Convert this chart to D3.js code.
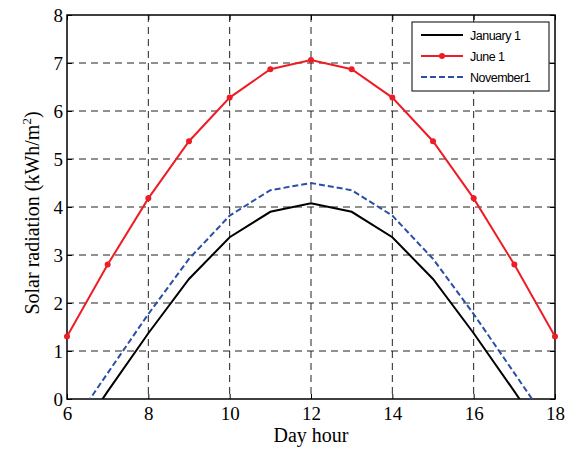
<!DOCTYPE html>
<html>
<head>
<meta charset="utf-8">
<script src="https://cdn.jsdelivr.net/npm/d3@7"></script>
<style>
  body { margin: 0; background: #fff; }
  .tick text { font-family: "Liberation Serif", "Times New Roman", serif; font-size: 19px; fill: #000; }
</style>
</head>
<body>
<script>
// Data
var hours = [6, 7, 8, 9, 10, 11, 12, 13, 14, 15, 16, 17, 18];
var jan1 = [-1.1, 0.16, 1.37, 2.5, 3.37, 3.9, 4.08, 3.9, 3.37, 2.5, 1.37, 0.16, -1.1];
var jun1 = [1.3, 2.8, 4.18, 5.37, 6.28, 6.87, 7.06, 6.87, 6.28, 5.37, 4.18, 2.8, 1.3];
var nov1 = [-0.7, 0.54, 1.77, 2.92, 3.82, 4.35, 4.5, 4.35, 3.82, 2.92, 1.77, 0.54, -0.7];
var xTicks = [6, 8, 10, 12, 14, 16, 18];
var yTicks = [0, 1, 2, 3, 4, 5, 6, 7, 8];

var series = [
  { name: 'January 1', values: jan1, color: '#000000', dash: null, dots: false },
  { name: 'June 1', values: jun1, color: '#ee1c25', dash: null, dots: true },
  { name: 'November1', values: nov1, color: '#2b4ea6', dash: '6,3', dots: false }
];

const margin = { top: 15, right: 13, bottom: 51, left: 67 };
const width = 568 - margin.left - margin.right;
const height = 450 - margin.top - margin.bottom;

const xScale = d3.scaleLinear().domain([6, 18]).range([0, width]);
const yScale = d3.scaleLinear().domain([0, 8]).range([height, 0]);

const svg = d3.select("body").append("svg")
  .attr("width", 568)
  .attr("height", 450)
  .append("g")
  .attr("transform", "translate(" + margin.left + "," + margin.top + ")");

svg.append("defs").append("clipPath")
  .attr("id", "clip")
  .append("rect")
  .attr("width", width)
  .attr("height", height);

// grid
svg.append("g").selectAll("line")
  .data(xTicks.slice(1, -1))
  .enter().append("line")
  .attr("x1", d => xScale(d)).attr("x2", d => xScale(d))
  .attr("y1", 0).attr("y2", height)
  .attr("stroke", "#222").attr("stroke-width", 1)
  .attr("stroke-dasharray", "7,5");

svg.append("g").selectAll("line")
  .data(yTicks.slice(1, -1))
  .enter().append("line")
  .attr("x1", 0).attr("x2", width)
  .attr("y1", d => yScale(d)).attr("y2", d => yScale(d))
  .attr("stroke", "#222").attr("stroke-width", 1)
  .attr("stroke-dasharray", "7,5");

// axes, ticks pointing inwards
const xAxis = d3.axisBottom(xScale).tickValues(xTicks).tickSizeInner(-5).tickSizeOuter(0).tickPadding(8);
const yAxis = d3.axisLeft(yScale).tickValues(yTicks).tickSizeInner(-5).tickSizeOuter(0).tickPadding(4);

svg.append("g")
  .attr("class", "x axis")
  .attr("transform", "translate(0," + height + ")")
  .call(xAxis)
  .call(g => g.select(".domain").remove());

svg.append("g")
  .attr("class", "y axis")
  .call(yAxis)
  .call(g => g.select(".domain").remove());

// top and right ticks
svg.append("g").call(d3.axisTop(xScale).tickValues(xTicks).tickSizeInner(-5).tickSizeOuter(0).tickFormat(""))
  .call(g => g.select(".domain").remove());
svg.append("g").attr("transform", "translate(" + width + ",0)")
  .call(d3.axisRight(yScale).tickValues(yTicks).tickSizeInner(-5).tickSizeOuter(0).tickFormat(""))
  .call(g => g.select(".domain").remove());

svg.selectAll(".tick line").attr("stroke", "#000");

svg.append("rect")
  .attr("width", width).attr("height", height)
  .attr("fill", "none").attr("stroke", "#000").attr("stroke-width", 1.5);

const line = d3.line()
  .x(function (d, i) { return xScale(hours[i]); })
  .y(function (d) { return yScale(d); });

svg.selectAll('.line')
  .data(series)
  .enter()
  .append("path")
  .attr("class", "line")
  .attr("fill", "none")
  .attr("stroke", d => d.color)
  .attr("stroke-width", 2)
  .attr("stroke-dasharray", d => d.dash)
  .attr("d", d => line(d.values))
  .attr("clip-path", "url(#clip)");

svg.selectAll('.dot')
  .data(jun1)
  .enter()
  .append("circle")
  .attr("class", "dot")
  .attr("r", 3)
  .attr("fill", series[1].color)
  .attr("cx", (d, i) => xScale(hours[i]))
  .attr("cy", d => yScale(d));

// axis labels
svg.append("text")
  .attr("x", width / 2)
  .attr("y", height + 43)
  .attr("text-anchor", "middle")
  .style("font-family", "'Liberation Serif', serif")
  .style("font-size", "20px")
  .text("Day hour");

const ylab = svg.append("text")
  .attr("transform", "rotate(-90)")
  .attr("x", -198)
  .attr("y", -28)
  .attr("text-anchor", "middle")
  .style("font-family", "'Liberation Serif', serif")
  .style("font-size", "20px");
ylab.append("tspan").text("Solar radiation (kWh/m");
ylab.append("tspan").attr("dy", -8).style("font-size", "13px").text("2");
ylab.append("tspan").attr("dy", 8).text(")");

// legend
const legend = svg.append("g").attr("transform", "translate(345,7)");
legend.append("rect")
  .attr("width", 137).attr("height", 69)
  .attr("fill", "#fff").attr("stroke", "#000").attr("stroke-width", 1);

const items = legend.selectAll(".item")
  .data(series)
  .enter().append("g")
  .attr("transform", (d, i) => "translate(0," + (13 + i * 21) + ")");

items.append("line")
  .attr("x1", 9).attr("x2", 51)
  .attr("stroke", d => d.color).attr("stroke-width", 2)
  .attr("stroke-dasharray", d => d.dash);

items.filter(d => d.dots).append("circle")
  .attr("cx", 30).attr("r", 3).attr("fill", d => d.color);

items.append("text")
  .attr("x", 58).attr("y", 5)
  .style("font-family", "'Liberation Sans', Arial, sans-serif")
  .style("font-size", "12.5px")
  .style("letter-spacing", "-0.5px")
  .text(d => d.name);
</script>
</body>
</html>
